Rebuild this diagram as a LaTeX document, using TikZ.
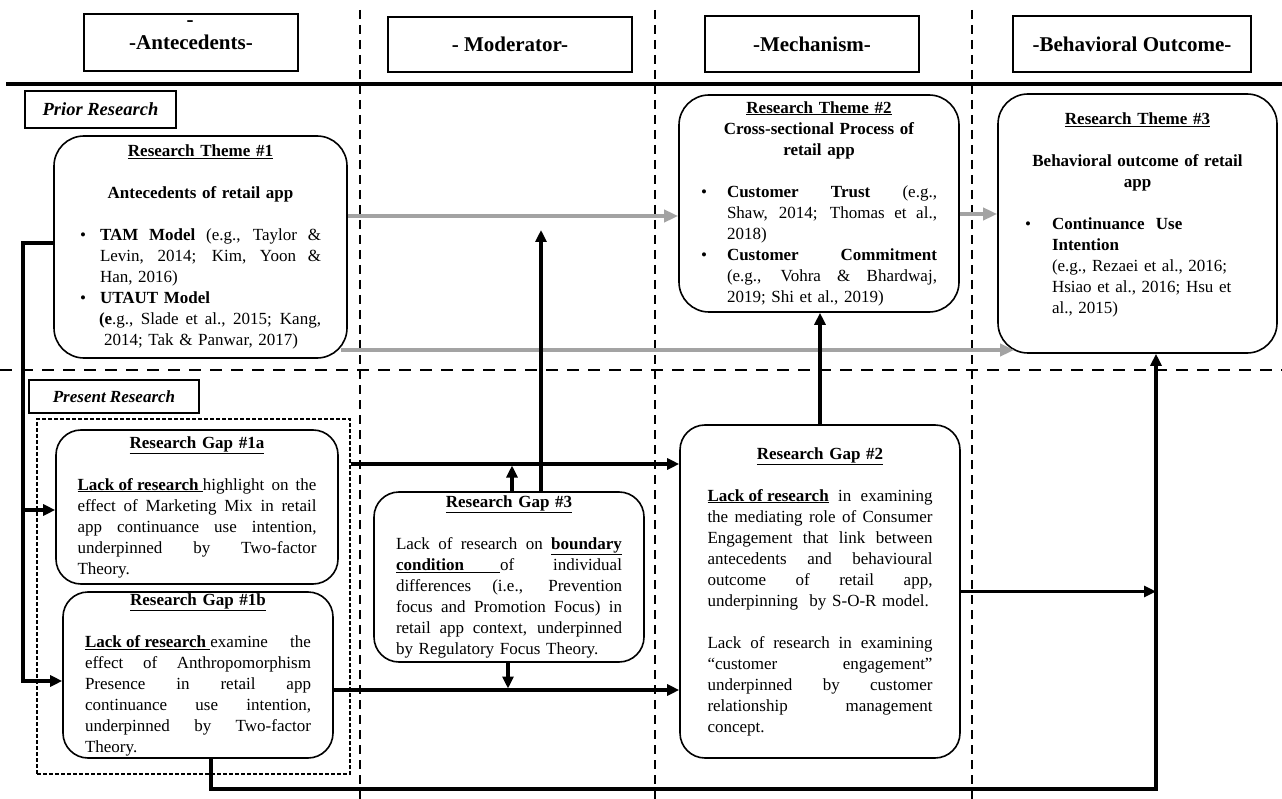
\documentclass[tikz,border=0pt]{standalone}
\usepackage{fontspec}
\setmainfont{Liberation Serif}
\usepackage{tikz}
\usetikzlibrary{arrows.meta,positioning,calc}
\definecolor{flow}{HTML}{A3A3A3}
\definecolor{ink}{HTML}{000000}
% one line of a box: justified, centred, bullet, hanging
\newcommand{\jlin}[1]{\makebox[\linewidth][s]{\spaceskip=0pt\xspaceskip=0pt\relax#1}}
\newcommand{\clin}[1]{\makebox[\linewidth][c]{#1}}
\newcommand{\bjust}[2]{\makebox[#1][l]{\textbullet}\makebox[\dimexpr\linewidth-#1\relax][s]{\spaceskip=0pt\xspaceskip=0pt\relax#2}}
\newcommand{\bleft}[2]{\makebox[#1][l]{\textbullet}#2}
\newcommand{\hjust}[2]{\hspace*{#1}\makebox[\dimexpr\linewidth-#1\relax][s]{\spaceskip=0pt\xspaceskip=0pt\relax#2}}
\newcommand{\hleft}[2]{\hspace*{#1}#2}
\tikzset{
  head/.style={draw,line width=1.5pt,fill=white,inner sep=0pt,
    font=\fontsize{21}{25}\selectfont\bfseries},
  tag/.style={draw,line width=1.5pt,fill=white,inner sep=0pt,font=\bfseries\itshape},
  theme/.style={draw,line width=1.6pt,rounded corners=30pt,fill=white,align=left,
    inner sep=0pt,font=\fontsize{17}{21}\selectfont},
  gapbox/.style={theme,rounded corners=25pt},
  arr/.style={-{Triangle[length=12pt,width=11pt]},line width=3.5pt,draw=ink},
  wire/.style={line width=3.5pt,draw=ink},
  garr/.style={-{Triangle[length=14pt,width=12pt]},line width=4pt,draw=flow},
  sep/.style={line width=2.5pt,dash pattern=on 9pt off 6pt}
}
\begin{document}
\begin{tikzpicture}[x=1pt,y=-1pt]
 \useasboundingbox (0,0) rectangle (1282,799);
 % grid of columns and rows
 \draw[sep] (360,10) -- (360,799);
 \draw[sep] (655,10) -- (655,799);
 \draw[sep] (972,10) -- (972,799);
 \draw[line width=2.5pt,dash pattern=on 12pt off 9pt] (0,370) -- (1282,370);
 \draw[line width=4.5pt] (6,84) -- (1282,84);

 \node[head,minimum width=214pt,minimum height=57pt] (ante) at (191,42.5) {-Antecedents-};
 \node[anchor=base,inner sep=0pt,font=\fontsize{21}{25}\selectfont\bfseries] (antdash) at (190,26.5) {-};
 \node[head,minimum width=244pt,minimum height=55pt] (mod) at (510,44.5) {- Moderator-};
 \node[head,minimum width=214pt,minimum height=56pt] (mech) at (812,44) {-Mechanism-};
 \node[head,minimum width=238pt,minimum height=56pt] (outc) at (1132,44) {-Behavioral Outcome-};

 \node[tag,minimum width=151pt,minimum height=37pt,font=\fontsize{18.5}{22}\selectfont\bfseries\itshape] (prior) at (100.5,109.5) {Prior Research};
 \node[tag,minimum width=170pt,minimum height=33pt,font=\fontsize{17}{21}\selectfont\bfseries\itshape] (present) at (114,396.5) {Present Research};

 \node[theme,minimum width=293pt,minimum height=222pt,text width=241pt] (t1) at (200.5,247) {%
  \clin{\underline{\textbf{Research Theme \#1}}}\\[21pt]
  \clin{\textbf{Antecedents of retail app}}\\[21pt]
  \bjust{20pt}{\textbf{TAM Model} (e.g., Taylor \&}\\
  \hjust{20pt}{Levin, 2014; Kim, Yoon \&}\\
  \hleft{20pt}{Han, 2016)}\\
  \bleft{20pt}{\textbf{UTAUT Model}}\\
  \hjust{19pt}{\textbf{(e}.g., Slade et al., 2015; Kang,}\\
  \hleft{24pt}{2014; Tak \& Panwar, 2017)}};
 \node[theme,minimum width=280pt,minimum height=217pt,text width=236pt] (t2) at (819,203.5) {%
  \clin{\underline{\textbf{Research Theme \#2}}}\\
  \clin{\textbf{Cross-sectional Process of}}\\
  \clin{\textbf{retail app}}\\[21pt]
  \bjust{26pt}{\textbf{Customer Trust} (e.g.,}\\
  \hjust{26pt}{Shaw, 2014; Thomas et al.,}\\
  \hleft{26pt}{2018)}\\
  \bjust{26pt}{\textbf{Customer Commitment}}\\
  \hjust{26pt}{(e.g., Vohra \& Bhardwaj,}\\
  \hleft{26pt}{2019; Shi et al., 2019)}};
 \node[theme,minimum width=279pt,minimum height=259pt,text width=225pt] (t3) at (1137.5,223.5) {%
  \clin{\underline{\textbf{Research Theme \#3}}}\\[21pt]
  \clin{\textbf{Behavioral outcome of retail}}\\
  \clin{\textbf{app}}\\[21pt]
  \bleft{27pt}{\textbf{Continuance\ \ Use}}\\
  \hleft{27pt}{\textbf{Intention}}\\
  \hleft{27pt}{(e.g., Rezaei et al., 2016;}\\
  \hleft{27pt}{Hsiao et al., 2016; Hsu et}\\
  \hleft{27pt}{al., 2015)}\\ \mbox{}};

 \node[draw,line width=1.2pt,dash pattern=on 4pt off 2pt,minimum width=313pt,minimum height=355pt] (grp) at (193.5,596.5) {};
 \node[gapbox,minimum width=282pt,minimum height=154pt,text width=239pt] (g1a) at (197,507) {%
  \clin{\underline{\textbf{Research Gap \#1a}}}\\[21pt]
  \jlin{\underline{\textbf{Lack of research}\ }highlight on the}\\
  \jlin{effect of Marketing Mix in retail}\\
  \jlin{app continuance use intention,}\\
  \jlin{underpinned by Two-factor}\\
  Theory.};
 \node[gapbox,minimum width=270pt,minimum height=166pt,text width=226pt] (g1b) at (198,675) {%
  \clin{\underline{\textbf{Research Gap \#1b}}}\\[21pt]
  \jlin{\underline{\textbf{Lack of research}\ }examine the}\\
  \jlin{effect of Anthropomorphism}\\
  \jlin{Presence in retail app}\\
  \jlin{continuance use intention,}\\
  \jlin{underpinned by Two-factor}\\
  Theory.};
 \node[gapbox,minimum width=270pt,minimum height=170pt,text width=226pt] (g3) at (509,577) {%
  \clin{\underline{\textbf{Research Gap \#3}}}\\[21pt]
  \jlin{Lack of research on \underline{\textbf{boundary}}}\\
  \jlin{\underline{\textbf{condition}\hspace*{36pt}}of individual}\\
  \jlin{differences (i.e., Prevention}\\
  \jlin{focus and Promotion Focus) in}\\
  \jlin{retail app context, underpinned}\\
  by Regulatory Focus Theory.};
 \node[gapbox,minimum width=280pt,minimum height=333pt,text width=225pt] (g2) at (820,591.5) {%
  \clin{\underline{\textbf{Research Gap \#2}}}\\[21pt]
  \jlin{\underline{\textbf{Lack of research}} in examining}\\
  \jlin{the mediating role of Consumer}\\
  \jlin{Engagement that link between}\\
  \jlin{antecedents and behavioural}\\
  \jlin{outcome of retail app,}\\
  underpinning\ \ by S-O-R model.\\[21pt]
  \jlin{Lack of research in examining}\\
  \jlin{“customer engagement”}\\
  \jlin{underpinned by customer}\\
  \jlin{relationship management}\\
  concept.};

 % prior research links
 \draw[garr] ([yshift=31pt]t1.east) coordinate (p1) -- (p1 -| t2.west);
 \coordinate (p2) at ($(t1.east)+(-7,103)$);
 \draw[garr] (p2) -- ($(p2 -| t3.west)+(17,0)$);
 \draw[garr] ($(t2.east)+(0,10.5)$) coordinate (p3) -- (p3 -| t3.west);

 % present research links
 \coordinate (bus) at (23,0);
 \coordinate (b0) at ($(t1.west)+(0,-4)$);
 \coordinate (b1) at ($(g1b.west)+(0,6)$);
 \coordinate (a1) at ($(g1a.west)+(0,3)$);
 \draw[arr] (b0) -- (b0 -| bus) |- (b1);
 \draw[arr] (a1 -| bus) -- (a1);
 \coordinate (m1) at ($(grp.east)+(0,-132.5)$);
 \coordinate (m2) at ($(g1b.east)+(0,15)$);
 \draw[arr] (m1) -- (m1 -| g2.west);
 \draw[arr] (m2) -- (m2 -| g2.west);
 \coordinate (u1) at ($(g3.north)+(3,0)$);
 \coordinate (d1) at ($(g3.south)+(-1,0)$);
 \coordinate (u2) at ($(g3.north)+(32,0)$);
 \draw[arr,shorten >=1.5pt] (u1) -- (u1 |- m1);
 \draw[arr,shorten >=1.5pt] (d1) -- (d1 |- m2);
 \draw[arr,shorten >=14pt] (u2) -- (u2 |- p1);
 \draw[arr] (g2.north) -- (g2.north |- t2.south);
 \coordinate (rv) at ($(t3.south)+(18.5,0)$);
 \draw[arr] (g2.east) -- (g2.east -| rv);
 \coordinate (base) at ($(g1b.south)+(13,30)$);
 \draw[arr] ($(g1b.south)+(13,0)$) -- (base) -- (base -| rv) -- (rv);
\end{tikzpicture}
\end{document}
